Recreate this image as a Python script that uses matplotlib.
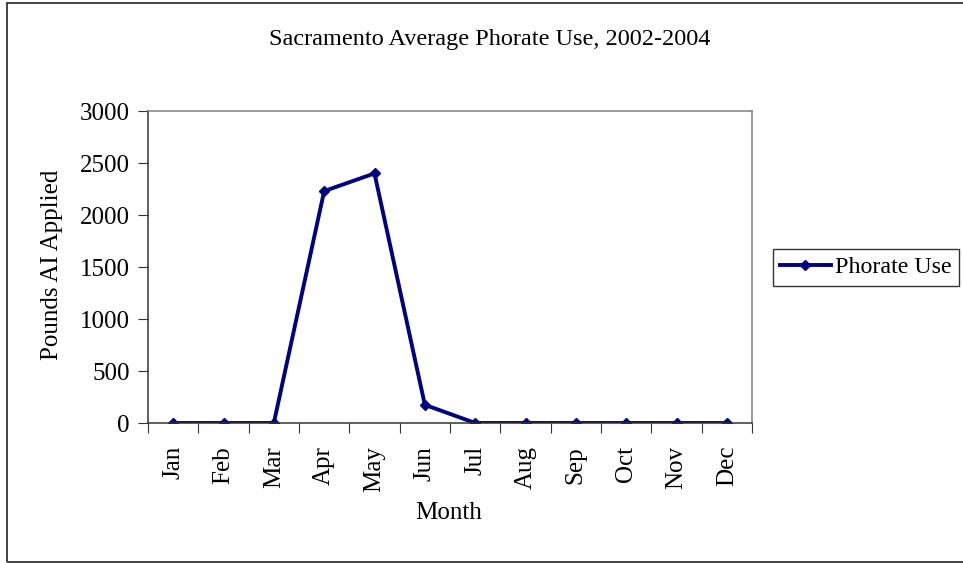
import matplotlib
matplotlib.use("Agg")
import matplotlib.pyplot as plt
from matplotlib.patches import Rectangle
import numpy as np

months = ["Jan", "Feb", "Mar", "Apr", "May", "Jun", "Jul", "Aug", "Sep", "Oct", "Nov", "Dec"]
phorate_use = [0, 0, 0, 2230, 2400, 175, 0, 0, 0, 0, 0, 0]
y_ticks = [0, 500, 1000, 1500, 2000, 2500, 3000]

plt.rcParams['font.family'] = ['Liberation Serif', 'DejaVu Serif']
FS = 18
W, H = 963, 563
fig = plt.figure(figsize=(W / 100, H / 100), dpi=100)

# outer chart border
fig.patches.append(Rectangle((7 / W, 1 - 562 / H), 1.0, (562 - 3) / H,
                             transform=fig.transFigure, fill=False,
                             edgecolor='#333333', linewidth=1.3, clip_on=False))

ax = fig.add_axes([148 / W, 1 - 423 / H, (752 - 148) / W, (423 - 111) / H])
x = np.arange(len(months))
ax.plot(x, phorate_use, color='#000080', linewidth=2.8, marker='D', markersize=5,
        label='Phorate Use')

ax.set_xlim(-0.5, len(months) - 0.5)
ax.set_ylim(0, 3000)
ax.set_yticks(y_ticks)
ax.set_yticklabels([str(v) for v in y_ticks], fontsize=FS)
ax.set_xticks(np.arange(-0.5, len(months), 1.0))
ax.set_xticklabels([])
ax.set_xticks(x, minor=True)
ax.set_xticklabels(months, minor=True, rotation=90, fontsize=FS)
ax.tick_params(axis='x', which='minor', length=0, pad=16.5)
ax.tick_params(axis='x', which='major', length=7, direction='out', color='#333333')
ax.tick_params(axis='y', length=7, direction='out', color='#333333', pad=6)

for s in ['left', 'bottom']:
    ax.spines[s].set_color('#333333')
    ax.spines[s].set_linewidth(1.1)
for s in ['top', 'right']:
    ax.spines[s].set_color('#808080')
    ax.spines[s].set_linewidth(1.1)

fig.text(449 / W, 1 - 513 / H, 'Month', ha='center', va='center', fontsize=FS)
fig.text(52 / W, 1 - 265 / H, 'Pounds AI Applied', ha='center', va='center',
         rotation=90, fontsize=FS)
fig.text(490 / W, 1 - 40 / H, 'Sacramento Average Phorate Use, 2002-2004',
         ha='center', va='center', fontsize=FS - 0.5)

leg = fig.legend(loc='center left', bbox_to_anchor=(773 / W, 1 - 267.5 / H),
                 fontsize=17.3, frameon=True, fancybox=False, handlelength=2.1,
                 handletextpad=0.2, borderpad=0.3, borderaxespad=0)
leg.get_frame().set_edgecolor('#000000')
leg.get_frame().set_linewidth(1.0)

fig.savefig('out.png', dpi=100)
